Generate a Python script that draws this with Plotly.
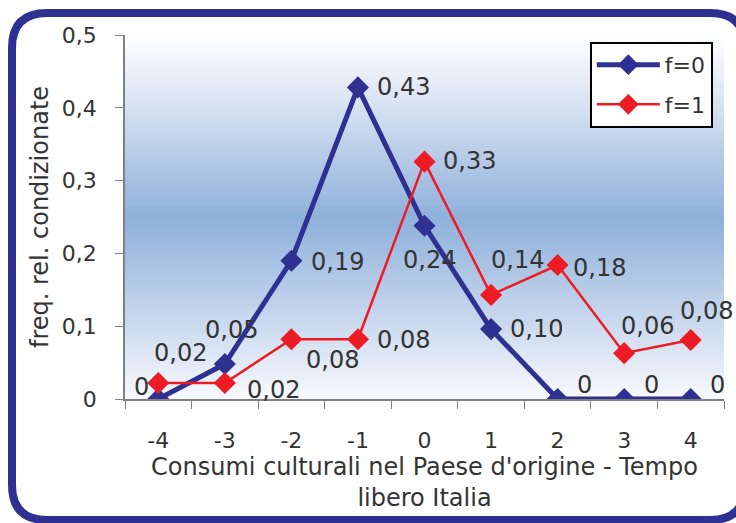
import plotly.graph_objects as go

categories = ["-4", "-3", "-2", "-1", "0", "1", "2", "3", "4"]
f0_values = [0, 0.048, 0.19, 0.428, 0.238, 0.096, 0, 0, 0]
f1_values = [0.022, 0.022, 0.082, 0.082, 0.326, 0.143, 0.184, 0.063, 0.081]
y_ticks = [0, 0.1, 0.2, 0.3, 0.4, 0.5]

# label offsets (pixels) for data labels
f0_shift = [(-17, 12), (7, 34), (46, -1), (46, 0), (5, -34), (45, 0), (27, 14), (27, 14), (27, 14)]
f1_shift = [(22, 30), (49, -7), (41, -21), (46, -1), (45, 1), (26, 35), (42, -3), (23, 27), (16, 29)]

BLUE = "#2E3192"
RED = "#ED1C24"
TXT = "#333333"
FONT = "DejaVu Sans"

# background gradient stops (fraction of y range, rgb)
grad_stops = [(0.0, (248, 250, 253)), (0.2, (204, 218, 238)), (0.5, (143, 176, 219)),
              (0.8, (214, 225, 241)), (1.0, (255, 255, 255))]


def fmt(v):
    return "0" if v == 0 else f"{v:.2f}".replace(".", ",")


def grad_color(t):
    for (a, ca), (b, cb) in zip(grad_stops[:-1], grad_stops[1:]):
        if a <= t <= b:
            k = (t - a) / (b - a)
            c = [round(ca[i] + (cb[i] - ca[i]) * k) for i in range(3)]
            return f"rgb({c[0]},{c[1]},{c[2]})"
    return "white"


fig = go.Figure()

fig.add_trace(go.Scatter(
    x=categories, y=f0_values, name="f=0", mode="lines+markers", legendgroup="a",
    line=dict(color=BLUE, width=5),
    marker=dict(symbol="diamond", size=17, color=BLUE),
))
fig.add_trace(go.Scatter(
    x=categories, y=f1_values, name="f=1", mode="lines+markers", legendgroup="b",
    line=dict(color=RED, width=2.5),
    marker=dict(symbol="diamond", size=17, color=RED),
))

annotations = []
for vals, shifts in ((f0_values, f0_shift), (f1_values, f1_shift)):
    for i, (v, (dx, dy)) in enumerate(zip(vals, shifts)):
        # category axis: annotation x given as category index
        annotations.append(dict(x=i, y=v, text=fmt(v), showarrow=False,
                                xshift=dx, yshift=dy,
                                font=dict(size=24, color=TXT, family=FONT)))

shapes = []
N = 120
for i in range(N):
    t0, t1 = i / N, (i + 1) / N
    shapes.append(dict(type="rect", xref="paper", yref="paper", x0=0, x1=1,
                       y0=t0, y1=t1 + 0.002, line=dict(width=0),
                       fillcolor=grad_color((t0 + t1) / 2), layer="below"))

# rounded border drawn in pixels relative to paper (0,0); right side falls off the page
L, R, T, B, r = -113, 620, 386, -121, 35
path = (f"M {L + r},{T} L {R - r},{T} Q {R},{T} {R},{T - r} "
        f"L {R},{B + r} Q {R},{B} {R - r},{B} "
        f"L {L + r},{B} Q {L},{B} {L},{B + r} "
        f"L {L},{T - r} Q {L},{T} {L + r},{T} Z")
shapes.append(dict(type="path", xref="paper", yref="paper",
                   xsizemode="pixel", ysizemode="pixel", xanchor=0, yanchor=0,
                   path=path, line=dict(color=BLUE, width=8), layer="above"))

fig.update_layout(
    width=736, height=523,
    margin=dict(l=125, r=12, t=35, b=124),
    paper_bgcolor="white", plot_bgcolor="white",
    separators=",.",
    font=dict(family=FONT, size=22, color=TXT),
    showlegend=True,
    legend=dict(x=0.776, y=0.981, xanchor="left", yanchor="top",
                bgcolor="white", bordercolor="black", borderwidth=2,
                tracegroupgap=8, itemwidth=63,
                font=dict(size=22, color=TXT, family=FONT)),
    annotations=annotations,
    shapes=shapes,
    xaxis=dict(type="category", categoryorder="array", categoryarray=categories,
               tickson="boundaries", range=[-0.5, 8.5],
               showline=True, linecolor="#808080", linewidth=1.5,
               ticks="outside", ticklen=8, tickcolor="#808080",
               showgrid=False, zeroline=False, ticklabelstandoff=21,
               title=dict(text="Consumi culturali nel Paese d'origine - Tempo<br>libero Italia",
                          standoff=0, font=dict(size=24, color=TXT))),
    yaxis=dict(range=[0, 0.5], tickvals=y_ticks,
               showline=True, linecolor="#808080", linewidth=1.5,
               ticks="outside", ticklen=8, tickcolor="#808080",
               showgrid=False, zeroline=False, ticklabelstandoff=14,
               title=dict(text="freq. rel. condizionate", standoff=6,
                          font=dict(size=24, color=TXT))),
)

fig.write_html("out.html")
